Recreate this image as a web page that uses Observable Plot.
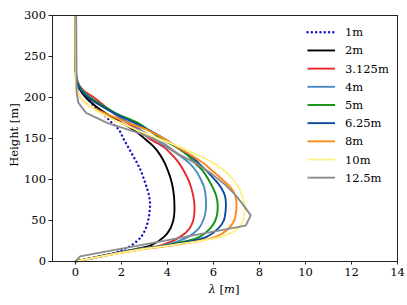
<!DOCTYPE html>
<html><head><meta charset="utf-8">
<script src="https://cdn.jsdelivr.net/npm/d3@7"></script>
<script src="https://cdn.jsdelivr.net/npm/@observablehq/plot@0.6"></script>
<style>
body{margin:0;background:#fff;}
#wrap{width:407px;height:305px;}
</style></head><body><div id="wrap"></div>
<script>
// Heights (m) sampled for the smooth profiles
const heights = [0,5,10,15,20,30,40,50,60,70,80,90,100,110,120,130,140,150,160,170,180,190,200,210,220,300];
const lam1m   = [0,0.9,1.65,2.1,2.45,2.85,3.05,3.16,3.22,3.24,3.2,3.1,2.98,2.85,2.68,2.48,2.28,2.08,1.9,1.55,1.2,0.8,0.5,0.2,0.05,0];
const lam2m   = [0,0.85,1.7,2.6,3.3,3.85,4.12,4.25,4.3,4.3,4.28,4.23,4.15,4.03,3.88,3.68,3.4,3.0,2.55,1.95,1.35,0.85,0.45,0.18,0.05,0];
const lam3125 = [0,0.85,1.75,2.65,3.75,4.55,4.95,5.12,5.17,5.17,5.12,5.03,4.9,4.72,4.5,4.2,3.82,3.2,2.75,2.2,1.7,1.25,0.8,0.3,0.08,0];
const lam4m   = [0,0.85,1.75,2.7,3.9,4.9,5.35,5.55,5.65,5.68,5.66,5.6,5.45,5.25,4.95,4.5,3.95,3.4,2.85,2.3,1.7,1.15,0.65,0.25,0.07,0];
const lam5m   = [0,0.85,1.75,2.75,4.0,5.4,5.85,6.08,6.17,6.18,6.12,5.97,5.78,5.55,5.2,4.85,4.35,3.7,3.2,2.65,1.8,1.2,0.62,0.25,0.07,0];
const lam625  = [0,0.85,1.8,2.8,4.1,5.7,6.2,6.45,6.52,6.54,6.5,6.33,6.05,5.72,5.35,4.95,4.4,3.85,3.2,2.5,1.75,1.1,0.55,0.2,0.06,0];
const lam8m   = [0,0.9,1.85,2.9,4.3,6.1,6.65,6.9,6.98,7.0,6.95,6.75,6.38,5.98,5.55,5.0,4.4,3.85,3.15,2.2,1.35,0.6,0.22,0.06,0.02,0];
const lam10m  = [0,0.9,1.85,2.9,4.2,6.3,7.05,7.28,7.35,7.34,7.25,7.1,6.85,6.5,6.0,5.3,4.5,3.6,2.7,1.9,1.15,0.6,0.22,0.05,0.02,0];
// 12.5 m profile on its own coarse grid
const heights125 = [0,6.25,18.75,31.25,43.75,56.25,68.75,81.25,93.75,106.25,118.75,131.25,143.75,156.25,168.75,181.25,193.75,206.25,300];
const lam125     = [0,0.2,2.6,5.0,7.4,7.62,7.3,6.95,6.5,5.95,5.3,4.45,3.85,2.8,1.4,0.46,0.12,0.05,0.03];

const names  = ["1m","2m","3.125m","4m","5m","6.25m","8m","10m","12.5m"];
const colors = ["#1414c8","#000000","#e8282b","#4a8ac4","#129012","#0c4a9a","#ff8a1a","#fff08a","#8c8c8c"];
const xTicks = [0,2,4,6,8,10,12,14];
const yTicks = [0,50,100,150,200,250,300];

const series = [
  {h: heights, l: lam1m}, {h: heights, l: lam2m}, {h: heights, l: lam3125},
  {h: heights, l: lam4m}, {h: heights, l: lam5m}, {h: heights, l: lam625},
  {h: heights, l: lam8m}, {h: heights, l: lam10m}, {h: heights125, l: lam125}
].map((s, k) => ({...s, name: names[k], color: colors[k],
  dash: k === 0 ? "0.1,4.2" : null, cap: k === 0 ? "round" : "butt",
  width: k === 0 ? 2.4 : 1.9,
  curve: k === 8 ? "linear" : "catmull-rom"}));

const lineMarks = series.map(s => Plot.line(s.h.map((h, i) => ({h, l: s.l[i]})), {
  x: "l", y: "h", stroke: s.color, strokeWidth: s.width,
  strokeDasharray: s.dash, strokeLinecap: s.cap, curve: s.curve
}));

const FONT = "DejaVu Serif";
const chart = Plot.plot({
  width: 407, height: 305,
  marginLeft: 52, marginRight: 10, marginTop: 15, marginBottom: 44,
  style: {fontFamily: FONT, fontSize: "11.5px", color: "#000", background: "#fff"},
  x: {domain: [-1, 14]},
  y: {domain: [0, 300]},
  marks: [
    ...lineMarks,
    Plot.frame({stroke: "#222", strokeWidth: 1}),
    Plot.axisX({ticks: xTicks, tickSize: 3.5, tickPadding: 3, label: null, stroke: "#222"}),
    Plot.axisY({ticks: yTicks, tickSize: 3.5, tickPadding: 3, label: null, stroke: "#222"})
  ]
});
document.getElementById("wrap").appendChild(chart);

const svg = d3.select(chart);
// axis labels
svg.append("text").attr("transform", "translate(14,135) rotate(-90)")
  .attr("text-anchor", "middle").attr("dy", "0.35em")
  .text("Height [m]");
const xl = svg.append("text").attr("x", 224).attr("y", 293).attr("text-anchor", "middle");
xl.append("tspan").style("font-style", "italic").text("λ");
xl.append("tspan").text(" [");
xl.append("tspan").style("font-style", "italic").text("m");
xl.append("tspan").text("]");

// legend
const lg = svg.append("g").attr("text-anchor", "start");
series.forEach((s, k) => {
  const y = 32.3 + k * 18.17;
  lg.append("line").attr("x1", 307.5).attr("x2", 335).attr("y1", y).attr("y2", y)
    .attr("stroke", s.color).attr("stroke-width", s.width)
    .attr("stroke-linecap", s.cap)
    .attr("stroke-dasharray", s.dash);
  lg.append("text").attr("x", 345).attr("y", y).attr("dy", "0.35em")
    .attr("text-anchor", "start").text(s.name);
});
svg.selectAll("text").style("font-family", FONT).style("font-size", "11.5px");
</script></body></html>
